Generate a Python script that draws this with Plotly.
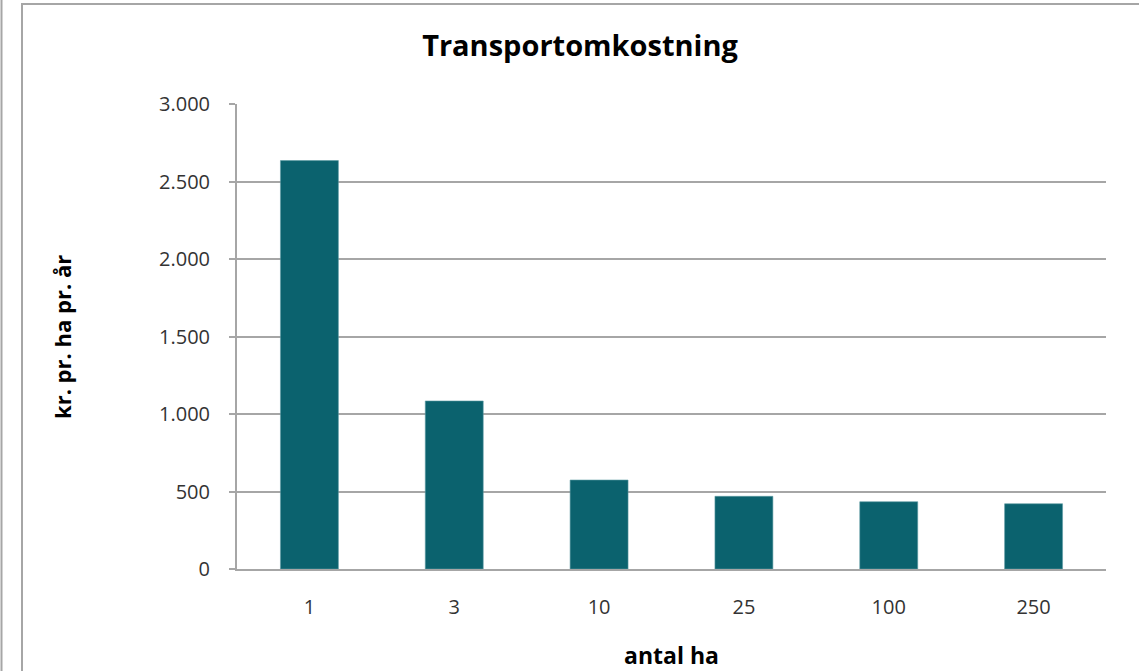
import plotly.graph_objects as go

# data
antal_ha = ["1", "3", "10", "25", "100", "250"]
kr_pr_ha = [2635, 1084, 574, 469, 434, 421]
y_ticks = [0, 500, 1000, 1500, 2000, 2500, 3000]

BAR = "#0B626E"
GRID = "#A6A6A6"
FONT = "Open Sans, Liberation Sans, sans-serif"

W, H = 1139, 671
L, R, T, B = 237, 33, 104, 102
pw, ph = W - L - R, H - T - B


def px_x(x):
    return (x - L) / pw


def px_y(y):
    return (H - B - y) / ph


fig = go.Figure()
fig.add_trace(
    go.Bar(
        x=antal_ha,
        y=kr_pr_ha,
        marker={"color": BAR, "line": {"color": "#5C9AA3", "width": 0.6}},
        hoverinfo="x+y",
    )
)

fig.update_layout(
    width=W,
    height=H,
    margin={"l": L, "r": R, "t": T, "b": B},
    paper_bgcolor="white",
    plot_bgcolor="white",
    separators=",.",
    bargap=0.6,
    showlegend=False,
    font={"family": FONT, "size": 20, "color": "#333333"},
    title={
        "text": "<b>Transportomkostning</b>",
        "x": px_x(580),
        "xanchor": "center",
        "xref": "paper",
        "y": 1 - 46 / H,
        "yanchor": "middle",
        "font": {"size": 29, "color": "#000000"},
    },
    xaxis={
        "type": "category",
        "showgrid": False,
        "showline": True,
        "linecolor": GRID,
        "linewidth": 2,
        "ticks": "",
        "ticklabelstandoff": 19,
    },
    yaxis={
        "range": [0, 3000],
        "tickvals": y_ticks,
        "tickformat": ",d",
        "showgrid": True,
        "gridcolor": GRID,
        "gridwidth": 2,
        "showline": True,
        "linecolor": GRID,
        "linewidth": 2,
        "ticks": "outside",
        "ticklen": 6,
        "tickcolor": GRID,
        "tickwidth": 2,
        "ticklabelstandoff": 15,
        "zeroline": False,
    },
    annotations=[
        {
            "text": "<b>antal ha</b>",
            "xref": "paper",
            "yref": "paper",
            "x": px_x(671),
            "y": px_y(655),
            "xanchor": "center",
            "yanchor": "middle",
            "showarrow": False,
            "font": {"size": 23, "color": "#000000"},
        },
        {
            "text": "<b>kr. pr. ha pr. år</b>",
            "xref": "paper",
            "yref": "paper",
            "x": px_x(62),
            "y": px_y(337),
            "xanchor": "center",
            "yanchor": "middle",
            "textangle": -90,
            "showarrow": False,
            "font": {"size": 22, "color": "#000000"},
        },
    ],
    shapes=[
        # chart frame, cut off at the right and bottom of the picture
        {
            "type": "rect",
            "xref": "paper",
            "yref": "paper",
            "x0": px_x(22),
            "x1": px_x(W + 20),
            "y0": px_y(H + 20),
            "y1": px_y(4),
            "line": {"color": GRID, "width": 2},
            "layer": "below",
        },
        {
            "type": "line",
            "xref": "paper",
            "yref": "paper",
            "x0": px_x(1.5),
            "x1": px_x(1.5),
            "y0": px_y(H + 20),
            "y1": px_y(-20),
            "line": {"color": GRID, "width": 2},
        },
    ],
)

# page without the default body margin so the chart sits at the window corner
fig.write_html(
    "out.html",
    config={"displayModeBar": False},
    post_script="document.body.style.margin='0';",
)
